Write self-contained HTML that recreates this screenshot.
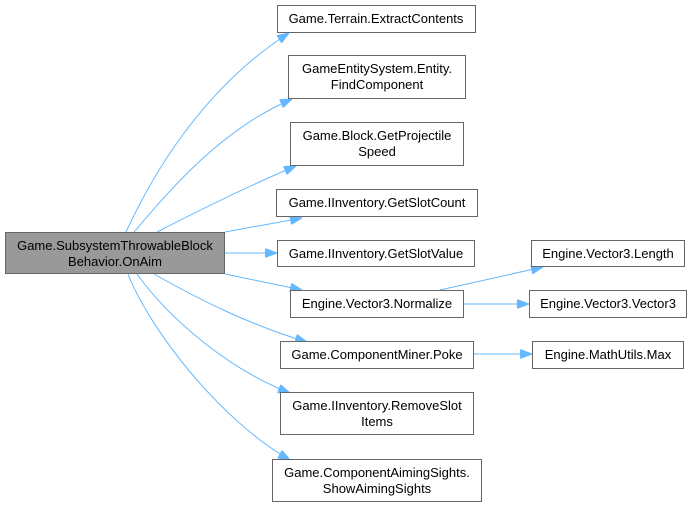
<!DOCTYPE html>
<html><head><meta charset="utf-8"><style>
html,body{margin:0;padding:0;background:#fff;}
svg{display:block;}
text{font-family:"Liberation Sans",Arial,sans-serif;font-size:13px;fill:#000;text-anchor:middle;}
rect{fill:#fff;stroke:#666;stroke-width:1;}
path{fill:none;stroke:#63b8ff;stroke-width:1;}
</style></head><body>
<svg width="692" height="507" viewBox="0 0 692 507">
<defs><marker id="a" markerWidth="12" markerHeight="9" refX="12" refY="4.5" orient="auto" markerUnits="userSpaceOnUse"><path d="M0,0 L12,4.5 L0,9 Z" style="fill:#63b8ff;stroke:#63b8ff"/></marker></defs>
<path d="M126,232 C150,180 200,90 289,33" marker-end="url(#a)"/>
<path d="M134,232 C170,190 220,130 292,99" marker-end="url(#a)"/>
<path d="M157,232 C200,210 250,185 296,166" marker-end="url(#a)"/>
<path d="M225,232 L302,218" marker-end="url(#a)"/>
<path d="M225,253 L277,253" marker-end="url(#a)"/>
<path d="M225,274 L302,290" marker-end="url(#a)"/>
<path d="M154,274 C200,300 250,325 307,342" marker-end="url(#a)"/>
<path d="M137,274 C170,320 230,370 290,393" marker-end="url(#a)"/>
<path d="M128,274 C150,330 220,420 290,460" marker-end="url(#a)"/>
<path d="M440,290 L543,267" marker-end="url(#a)"/>
<path d="M463,304 L529,304" marker-end="url(#a)"/>
<path d="M473,354 L532,354" marker-end="url(#a)"/>

<rect x="5.5" y="232.5" width="219" height="41" style="fill:#999;stroke:#666"/>
<text x="115" y="250">Game.SubsystemThrowableBlock</text>
<text x="115" y="266">Behavior.OnAim</text>

<rect x="277.5" y="5.5" width="198" height="27"/><text x="376" y="23">Game.Terrain.ExtractContents</text>
<rect x="288.5" y="55.5" width="177" height="43"/><text x="377" y="73">GameEntitySystem.Entity.</text><text x="377" y="89">FindComponent</text>
<rect x="290.5" y="122.5" width="173" height="43"/><text x="377" y="140">Game.Block.GetProjectile</text><text x="377" y="156">Speed</text>
<rect x="276.5" y="189.5" width="201" height="27"/><text x="377" y="207">Game.IInventory.GetSlotCount</text>
<rect x="277.5" y="240.5" width="197" height="26"/><text x="376" y="258">Game.IInventory.GetSlotValue</text>
<rect x="290.5" y="290.5" width="173" height="27"/><text x="377" y="308">Engine.Vector3.Normalize</text>
<rect x="280.5" y="341.5" width="193" height="27"/><text x="377" y="359">Game.ComponentMiner.Poke</text>
<rect x="280.5" y="392.5" width="193" height="42"/><text x="377" y="410">Game.IInventory.RemoveSlot</text><text x="377" y="426">Items</text>
<rect x="272.5" y="459.5" width="209" height="42"/><text x="377" y="477">Game.ComponentAimingSights.</text><text x="377" y="493">ShowAimingSights</text>
<rect x="531.5" y="240.5" width="153" height="26"/><text x="608" y="258">Engine.Vector3.Length</text>
<rect x="529.5" y="290.5" width="157" height="27"/><text x="608" y="308">Engine.Vector3.Vector3</text>
<rect x="532.5" y="341.5" width="151" height="27"/><text x="608" y="359">Engine.MathUtils.Max</text>
</svg>
</body></html>
